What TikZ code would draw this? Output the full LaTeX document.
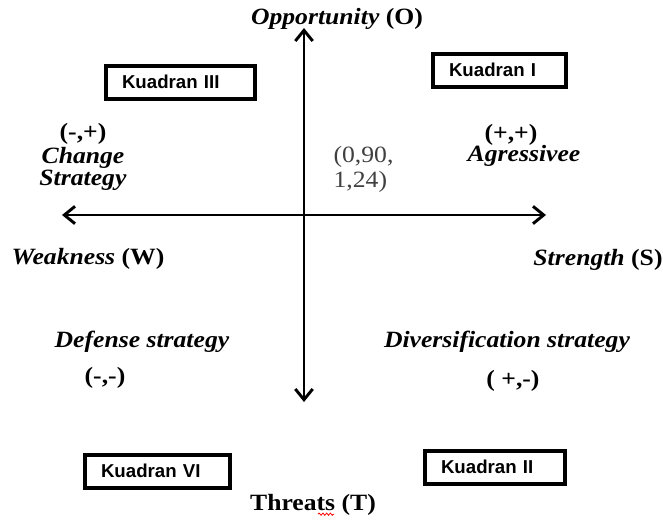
\documentclass[tikz,border=0pt]{standalone}
\usepackage{fontspec}
\setmainfont{Liberation Serif}[FakeStretch=1.1]
\setsansfont{Liberation Sans}
\usetikzlibrary{arrows.meta,decorations.pathmorphing}

\tikzstyle{axistext}=[font=\fontsize{17.5}{15}\selectfont\bfseries, inner sep=1pt, align=center]
\tikzstyle{valuetext}=[font=\fontsize{17.5}{18.75}\selectfont, text=black!75, inner sep=1pt, align=left]
\tikzstyle{quadbox}=[draw, line width=3pt, inner xsep=12pt, inner ysep=0pt, minimum height=24.75pt, align=left, font=\sffamily\bfseries\fontsize{14}{16}\selectfont]
\tikzstyle{axisline}=[draw, line width=2.2pt, {Straight Barb[length=8pt,width=13pt]}-{Straight Barb[length=8pt,width=13pt]}]

\begin{document}
\begin{tikzpicture}[x=0.75pt, y=-0.75pt]
		\useasboundingbox (0,0) rectangle (663,521);
		\coordinate (axtop) at (304,28);
		\coordinate (axbot) at (304,402);
		\coordinate (axleft) at (62,215);
		\coordinate (axright) at (546,215);
		\path[axisline] (axtop) -- (axbot);
		\path[axisline] (axleft) -- (axright);
		% axis names
		\node[axistext] (opp) at (337,19) {\textit{Opportunity} (O)};
		\node[axistext] (weak) at (88,259) {\textit{Weakness} (W)};
		\node[axistext] (str) at (598,260) {\textit{Strength} (S)};
		\node[axistext] (thr) at (313,505) {Threats (T)};
		\draw[red, line width=0.6pt, decorate, decoration={snake, amplitude=0.8pt, segment length=2.8pt}] (thr.south) ++(5,-3) -- ++(16,0);
		% quadrants
		\foreach \pos/\w/\name/\txt in {{(180.5,82)/87.75pt/q3/Kuadran III}, {(499.5,70)/75.75pt/q1/Kuadran I}, {(157.5,471)/84.75pt/q6/Kuadran VI}, {(495,467)/81pt/q2/Kuadran II}}
			\node[quadbox, text width=\w] (\name) at \pos {\txt};
		\node[axistext] (chg) at (83,157) {(-,+)\\[1.5pt] \textit{Change}\\ \textit{Strategy}};
		\node[axistext] (pp) at (511,135) {(+,+)};
		\node[axistext] (agr) at (524,156) {\textit{Agressivee}};
		\node[axistext] (def) at (142,342) {\textit{Defense strategy}};
		\node[axistext] (mm) at (105,378) {(-,-)};
		\node[axistext] (div) at (507,342) {\textit{Diversification strategy}};
		\node[axistext] (pm) at (513,381) {( +,-)};
		\node[valuetext, anchor=west] (val) at (332,169) {(0,90,\\1,24)};
	\end{tikzpicture}
\end{document}
